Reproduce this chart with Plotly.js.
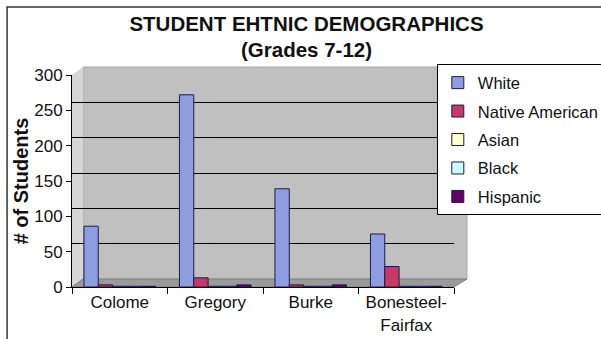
<!DOCTYPE html>
<html>
<head>
<meta charset="utf-8">
<script src="https://cdn.plot.ly/plotly-3.0.1.min.js"></script>
<style>html,body{margin:0;padding:0;background:#fff;}#chart{width:601px;height:339px;}</style>
</head>
<body>
<div id="chart"></div>
<script>
const categories = ['Colome', 'Gregory', 'Burke', 'Bonesteel-<br>Fairfax'];
const seriesNames = ['White', 'Native American', 'Asian', 'Black', 'Hispanic'];
const white = [86, 272, 139, 75];
const nativeAmerican = [3, 13, 3, 29];
const asian = [1, 1, 1, 1];
const black = [1, 1, 1, 1];
const hispanic = [1, 3, 3, 1];
const yTicks = [0, 50, 100, 150, 200, 250, 300];

const seriesValues = [white, nativeAmerican, asian, black, hispanic];
const colors = ['#8e9de0', '#c93668', '#ffffcc', '#ccffff', '#660066'];

const traces = seriesNames.map((name, i) => ({
  type: 'bar',
  name: name,
  x: categories,
  y: seriesValues[i],
  legendgroup: 'g' + i,
  marker: {color: colors[i], line: {color: '#1c1c48', width: 1}},
  hoverinfo: 'none'
}));

const font = 'Arial, "Liberation Sans", sans-serif';

const layout = {
  width: 601,
  height: 339,
  margin: {l: 72, r: 147, t: 75, b: 52, autoexpand: false},
  paper_bgcolor: '#ffffff',
  plot_bgcolor: 'rgba(0,0,0,0)',
  barmode: 'group',
  bargap: 0.25,
  bargroupgap: 0,
  showlegend: true,
  font: {family: font, color: '#111', size: 17},
  title: {
    text: '<b>STUDENT EHTNIC DEMOGRAPHICS</b><br><b>(Grades 7-12)</b>',
    font: {family: font, size: 20.5, color: '#111'},
    x: 0.51, xanchor: 'center',
    y: 0.91, yanchor: 'middle', yref: 'container'
  },
  xaxis: {
    type: 'category',
    showline: true, linecolor: '#000', linewidth: 1,
    ticks: 'outside', tickson: 'boundaries', ticklen: 6, tickcolor: '#000',
    tickangle: 0,
    tickfont: {family: font, size: 17, color: '#111'},
    showgrid: false, fixedrange: true
  },
  yaxis: {
    range: [0, 300],
    tickvals: yTicks,
    showline: true, linecolor: '#000', linewidth: 1,
    ticks: 'outside', ticklen: 5, tickcolor: '#000',
    tickfont: {family: font, size: 17, color: '#111'},
    showgrid: false, zeroline: false,
    title: {text: '<b># of Students</b>', font: {family: font, size: 20, color: '#111'}, standoff: 0},
    fixedrange: true
  },
  yaxis2: {
    overlaying: 'y',
    range: [-11.3, 288.7],
    tickvals: [50, 100, 150, 200, 250],
    showticklabels: false,
    showgrid: true, gridcolor: '#000', gridwidth: 1,
    zeroline: false, showline: false, ticks: '',
    fixedrange: true
  },
  legend: {
    x: 0.955, xanchor: 'left',
    y: 1.05, yanchor: 'top',
    bgcolor: '#ffffff', bordercolor: '#000', borderwidth: 1,
    font: {family: font, size: 16.5, color: '#111'},
    traceorder: 'grouped', tracegroupgap: 4,
    itemwidth: 30,
    itemclick: false, itemdoubleclick: false
  },
  shapes: [
    // back wall
    {type: 'path', xref: 'paper', yref: 'paper', layer: 'below',
     path: 'M 0.0288 0.0377 L 1.034 0.0377 L 1.034 1.0377 L 0.0288 1.0377 Z',
     fillcolor: '#c0c0c0', line: {color: '#a8a8a8', width: 1}},
    // left side wall
    {type: 'path', xref: 'paper', yref: 'paper', layer: 'below',
     path: 'M 0 0 L 0.0288 0.0377 L 0.0288 1.0377 L 0 1 Z',
     fillcolor: '#d6d6d6', line: {width: 0}},
    // floor
    {type: 'path', xref: 'paper', yref: 'paper', layer: 'below',
     path: 'M 0 0 L 1 0 L 1.034 0.0377 L 0.0288 0.0377 Z',
     fillcolor: '#9a9a9a', line: {color: '#808080', width: 1}},
    // outer frame
    {type: 'rect', xref: 'paper', yref: 'paper', layer: 'below',
     x0: -0.170, x1: 1.40, y0: -0.30, y1: 1.321,
     fillcolor: 'rgba(0,0,0,0)', line: {color: '#333', width: 1.5}}
  ]
};

// invisible anchor trace so the back-wall grid axis is drawn
traces.push({type: 'scatter', x: [categories[0]], y: [0], yaxis: 'y2', mode: 'markers',
  marker: {opacity: 0}, showlegend: false, hoverinfo: 'none'});

Plotly.newPlot('chart', traces, layout, {displayModeBar: false, staticPlot: true});
</script>
</body>
</html>
